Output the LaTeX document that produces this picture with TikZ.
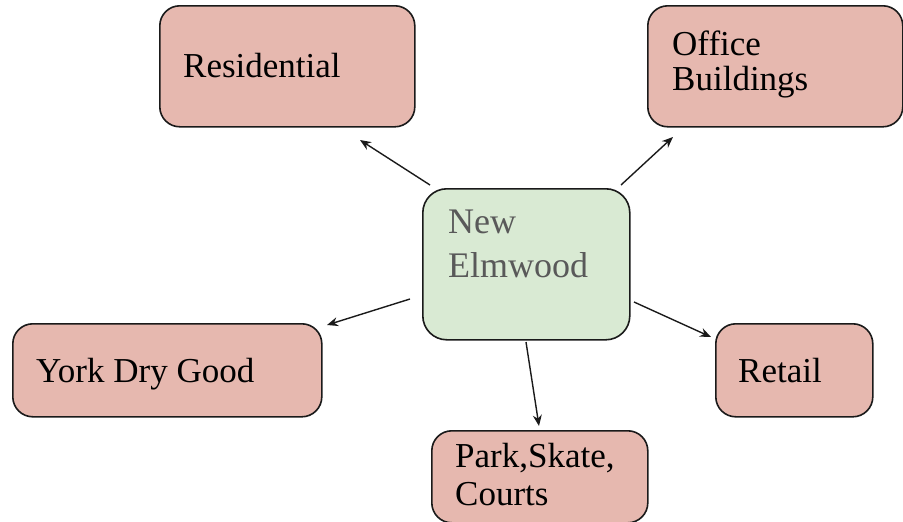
\documentclass[tikz,border=0pt]{standalone}
\usepackage{fontspec}
\setmainfont{Liberation Serif}
\usetikzlibrary{arrows.meta}
\definecolor{pinkfill}{HTML}{E6B8AF}
\definecolor{greenfill}{HTML}{D9EAD3}
\definecolor{edgec}{HTML}{1A1A1A}
\definecolor{graytext}{HTML}{595959}
\tikzset{
  boxbase/.style={draw=edgec, line width=1.6pt, rounded corners=20pt, inner sep=0pt, anchor=north west},
  pinkbox/.style={boxbase, fill=pinkfill},
  greenbox/.style={boxbase, fill=greenfill, rounded corners=24pt},
  lbl/.style={anchor=base west, inner sep=0pt, font=\fontsize{35}{38}\selectfont, text=black},
  conn/.style={draw=edgec, line width=1.4pt, -{Stealth[length=11pt,width=9pt]}}
}
\begin{document}
\begin{tikzpicture}[x=1pt,y=-1pt]
\useasboundingbox (0,0) rectangle (903,522);
% boxes
\node[pinkbox, minimum width=255pt, minimum height=121pt] (res) at (159,5) {};
\node[pinkbox, minimum width=255pt, minimum height=121pt] (off) at (647,5) {};
\node[greenbox, minimum width=207pt, minimum height=151pt] (ctr) at (422,188) {};
\node[pinkbox, minimum width=309pt, minimum height=93pt] (york) at (12,323) {};
\node[pinkbox, minimum width=157pt, minimum height=93pt] (ret) at (715,323) {};
\node[pinkbox, minimum width=216pt, minimum height=92pt] (park) at (431,430) {};
% labels
\node[lbl] (tres) at (183,77) {Residential};
\node[lbl] (toff1) at (672,55) {Office};
\node[lbl] (toff2) at (672,90) {Buildings};
\node[lbl, text=graytext, font=\fontsize{36}{40}\selectfont] (tctr1) at (448,233) {New};
\node[lbl, text=graytext, font=\fontsize{36}{40}\selectfont] (tctr2) at (448,277) {Elmwood};
\node[lbl] (tyork) at (36,382) {York Dry Good};
\node[lbl] (tret) at (738,382) {Retail};
\node[lbl] (tpark1) at (455,467) {Park,Skate,};
\node[lbl] (tpark2) at (455,505) {Courts};
% connector end points
\coordinate (cres) at (430,185);
\coordinate (ares) at (360,140);
\coordinate (coff) at (621,185);
\coordinate (aoff) at (673,137);
\coordinate (cyork) at (410,299);
\coordinate (ayork) at (327,325);
\coordinate (cret) at (634,302);
\coordinate (aret) at (711,337);
\coordinate (cpark) at (526,342);
\coordinate (apark) at (539,426);
\draw[conn] (cres) -- (ares);
\draw[conn] (coff) -- (aoff);
\draw[conn] (cyork) -- (ayork);
\draw[conn] (cret) -- (aret);
\draw[conn] (cpark) -- (apark);
\end{tikzpicture}
\end{document}
